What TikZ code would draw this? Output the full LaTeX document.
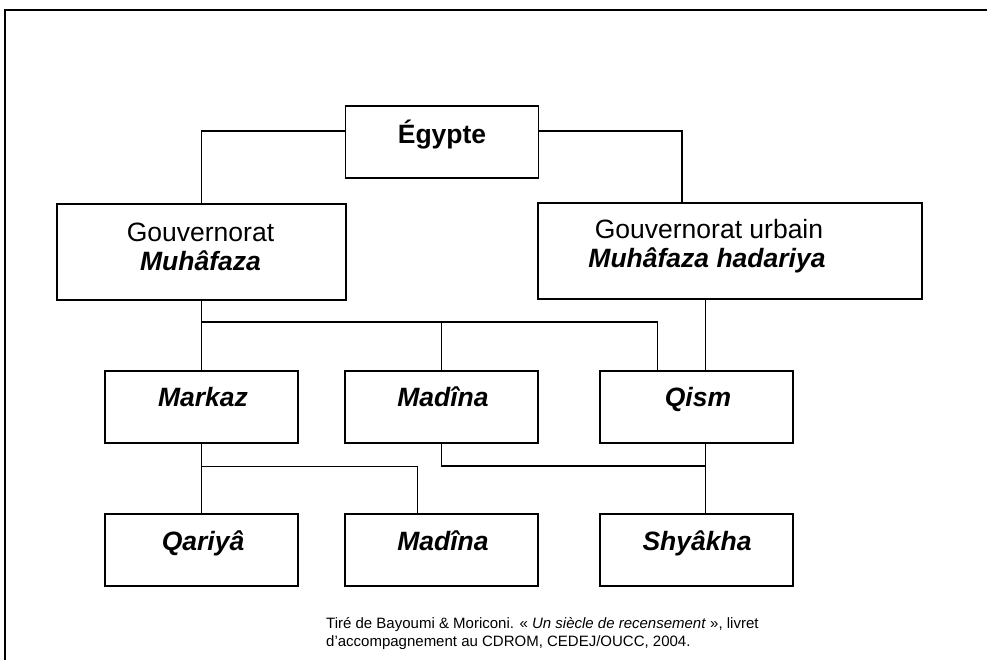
\documentclass[tikz,border=0pt]{standalone}
\usepackage{fontspec}
\setmainfont{Liberation Sans}
\begin{document}
\begin{tikzpicture}[x=1pt,y=-1pt,
  box/.style={draw, line width=1.8pt, inner sep=0pt, minimum width=193pt, minimum height=72pt},
  conn/.style={line width=1.4pt},
  lbl/.style={inner sep=0pt, anchor=base, font=\fontsize{26.5}{30}\selectfont},
  foot/.style={inner sep=0pt, anchor=base west, font=\fontsize{15}{18}\selectfont}]
\useasboundingbox (0,0) rectangle (987,660);
% frame
\draw[line width=2pt] (4.5,660) -- (4.5,10) -- (987,10);
% boxes
\node[box] (egypte) at (442,142) {};
\node[box, minimum width=289pt, minimum height=96pt] (gouv) at (201.5,252) {};
\node[box, minimum width=384pt, minimum height=96pt] (gu) at (730,251) {};
\node[box] (markaz) at (201.5,406.7) {};
\node[box] (madina1) at (441.5,406.7) {};
\node[box] (qism) at (696.5,406.7) {};
\node[box] (qariya) at (201.5,550.3) {};
\node[box] (madina2) at (441.5,550.3) {};
\node[box] (shyakha) at (696.5,550.3) {};
% labels
\node[lbl] (egyptet) at (442,143.3) {\textbf{Égypte}};
\node[lbl] (gouvt1) at (200.5,242) {Gouvernorat};
\node[lbl] (gouvt2) at (200.5,270) {\textbf{\textit{Muhâfaza}}};
\node[lbl] (gut1) at (709,238.3) {Gouvernorat urbain};
\node[lbl] (gut2) at (707,268) {\textbf{\textit{Muhâfaza hadariya}}};
\node[lbl] (markazt) at (203,406.7) {\textbf{\textit{Markaz}}};
\node[lbl] (madina1t) at (443,406.7) {\textbf{\textit{Madîna}}};
\node[lbl] (qismt) at (698,406.7) {\textbf{\textit{Qism}}};
\node[lbl] (qariyat) at (203,550) {\textbf{\textit{Qariyâ}}};
\node[lbl] (madina2t) at (443,550) {\textbf{\textit{Madîna}}};
\node[lbl] (shyakhat) at (697,550) {\textbf{\textit{Shyâkha}}};
% source
\node[foot] (src1) at (326,628) {Tiré de Bayoumi \& Moriconi. « \textit{Un siècle de recensement} », livret};
\node[foot] (src2) at (326,646) {d’accompagnement au CDROM, CEDEJ/OUCC, 2004.};
% connectors
\coordinate (guX) at (705.7,0);
\coordinate (qsX) at (657.7,0);
\coordinate (guTop) at (682,0);
\coordinate (md2X) at (417.7,0);
\coordinate (h1) at (201.5,322);
\coordinate (h2) at (201.5,466.7);
\coordinate (h3) at (441.5,466);
\draw[conn] ([yshift=11pt]egypte.west) -| (gouv.north);
\draw[conn] ([yshift=11pt]egypte.east) -| (guTop |- gu.north);
\draw[conn] (gouv.south) -- (markaz.north);
\draw[conn] (h1) -| (madina1.north);
\draw[conn] (h1) -| (qsX |- qism.north);
\draw[conn] (guX |- gu.south) -- (guX |- qism.north);
\draw[conn] (markaz.south) -- (qariya.north);
\draw[conn] (h2) -| (md2X |- madina2.north);
\draw[conn] (madina1.south) -- (h3) -| (guX |- qism.south);
\draw[conn] (guX |- qism.south) -- (guX |- shyakha.north);
\end{tikzpicture}
\end{document}
